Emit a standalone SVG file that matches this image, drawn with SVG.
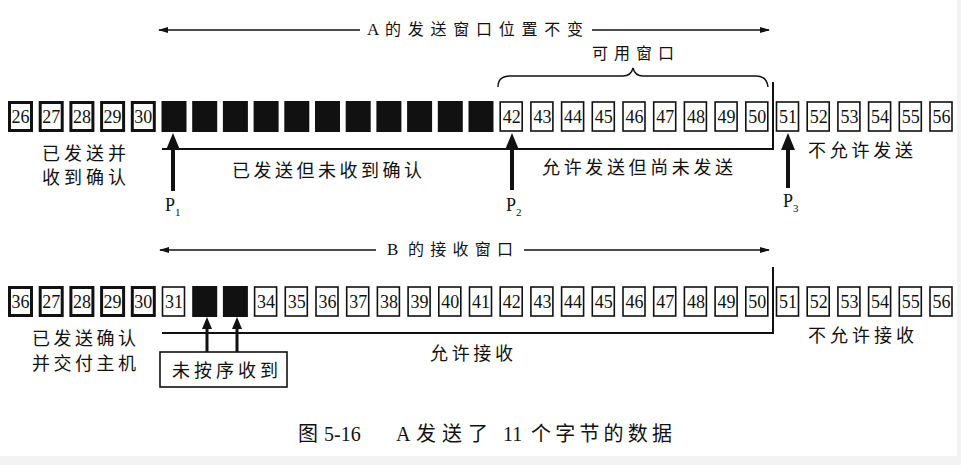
<svg xmlns="http://www.w3.org/2000/svg" xmlns:xlink="http://www.w3.org/1999/xlink" width="961" height="465" viewBox="0 0 961 465">
<style>
.bk{fill:#111}
.tk{fill:#fff;stroke:#111;stroke-width:3}
.tn{fill:#fff;stroke:#111;stroke-width:1.6}
.num{font-family:"Liberation Serif",serif;font-size:18px;text-anchor:middle;fill:#111}
.cn{font-family:"Liberation Serif","Noto Sans CJK SC",serif;font-size:18px;fill:#111}
.cap{font-family:"Liberation Serif","Noto Sans CJK SC",serif;font-size:20px;fill:#111}
.sm{font-family:"Liberation Serif","Noto Sans CJK SC",serif;font-size:16px;fill:#111}
.p{font-family:"Liberation Serif",serif;font-size:18px;fill:#111}
.sub{font-family:"Liberation Serif",serif;font-size:11px;fill:#111}
.ln{stroke:#111;stroke-width:2;fill:none}
.th{stroke:#111;stroke-width:1.4;fill:none}
.ar{fill:#111}
</style>
<defs>
<rect id="thick" x="1.5" y="1.5" width="22" height="28" class="tk"/>
<rect id="thin" x="1" y="1" width="22" height="29" class="tn"/>
<rect id="blk" width="25" height="31" class="bk"/>
<marker id="ah" viewBox="0 0 10 6" refX="9" refY="3" markerWidth="10" markerHeight="6" markerUnits="userSpaceOnUse" orient="auto-start-reverse">
<path d="M0,0 L10,3 L0,6 Z" fill="#111"/>
</marker>
</defs>
<rect x="0" y="0" width="961" height="465" fill="#fff"/>
<rect x="0" y="456" width="961" height="9" fill="#f3f3f3"/>
<rect x="957" y="0" width="4" height="465" fill="#f3f3f3"/>

<!-- Top row: A -->
<g id="a26" transform="translate(8,101)"><use href="#thick"/><text class="num" x="12.5" y="22">26</text></g>
<g id="a27" transform="translate(38.7,101)"><use href="#thick"/><text class="num" x="12.5" y="22">27</text></g>
<g id="a28" transform="translate(69.4,101)"><use href="#thick"/><text class="num" x="12.5" y="22">28</text></g>
<g id="a29" transform="translate(100.1,101)"><use href="#thick"/><text class="num" x="12.5" y="22">29</text></g>
<g id="a30" transform="translate(130.8,101)"><use href="#thick"/><text class="num" x="12.5" y="22">30</text></g>
<g id="a31" transform="translate(161.5,101)"><use href="#blk"/></g>
<g id="a32" transform="translate(192.2,101)"><use href="#blk"/></g>
<g id="a33" transform="translate(222.9,101)"><use href="#blk"/></g>
<g id="a34" transform="translate(253.6,101)"><use href="#blk"/></g>
<g id="a35" transform="translate(284.3,101)"><use href="#blk"/></g>
<g id="a36" transform="translate(315,101)"><use href="#blk"/></g>
<g id="a37" transform="translate(345.7,101)"><use href="#blk"/></g>
<g id="a38" transform="translate(376.4,101)"><use href="#blk"/></g>
<g id="a39" transform="translate(407.1,101)"><use href="#blk"/></g>
<g id="a40" transform="translate(437.8,101)"><use href="#blk"/></g>
<g id="a41" transform="translate(468.5,101)"><use href="#blk"/></g>
<g id="a42" transform="translate(499.2,101)"><use href="#thin"/><text class="num" x="12.5" y="22">42</text></g>
<g id="a43" transform="translate(529.9,101)"><use href="#thin"/><text class="num" x="12.5" y="22">43</text></g>
<g id="a44" transform="translate(560.6,101)"><use href="#thin"/><text class="num" x="12.5" y="22">44</text></g>
<g id="a45" transform="translate(591.3,101)"><use href="#thin"/><text class="num" x="12.5" y="22">45</text></g>
<g id="a46" transform="translate(622,101)"><use href="#thin"/><text class="num" x="12.5" y="22">46</text></g>
<g id="a47" transform="translate(652.7,101)"><use href="#thin"/><text class="num" x="12.5" y="22">47</text></g>
<g id="a48" transform="translate(683.4,101)"><use href="#thin"/><text class="num" x="12.5" y="22">48</text></g>
<g id="a49" transform="translate(714.1,101)"><use href="#thin"/><text class="num" x="12.5" y="22">49</text></g>
<g id="a50" transform="translate(744.8,101)"><use href="#thin"/><text class="num" x="12.5" y="22">50</text></g>
<g id="a51" transform="translate(775.5,101)"><use href="#thin"/><text class="num" x="12.5" y="22">51</text></g>
<g id="a52" transform="translate(806.2,101)"><use href="#thin"/><text class="num" x="12.5" y="22">52</text></g>
<g id="a53" transform="translate(836.9,101)"><use href="#thin"/><text class="num" x="12.5" y="22">53</text></g>
<g id="a54" transform="translate(867.6,101)"><use href="#thin"/><text class="num" x="12.5" y="22">54</text></g>
<g id="a55" transform="translate(898.3,101)"><use href="#thin"/><text class="num" x="12.5" y="22">55</text></g>
<g id="a56" transform="translate(929,101)"><use href="#thin"/><text class="num" x="12.5" y="22">56</text></g>

<!-- Bottom row: B -->
<g id="b36a" transform="translate(8,286)"><use href="#thick"/><text class="num" x="12.5" y="22">36</text></g>
<g id="b27" transform="translate(38.7,286)"><use href="#thick"/><text class="num" x="12.5" y="22">27</text></g>
<g id="b28" transform="translate(69.4,286)"><use href="#thick"/><text class="num" x="12.5" y="22">28</text></g>
<g id="b29" transform="translate(100.1,286)"><use href="#thick"/><text class="num" x="12.5" y="22">29</text></g>
<g id="b30" transform="translate(130.8,286)"><use href="#thick"/><text class="num" x="12.5" y="22">30</text></g>
<g id="b31" transform="translate(161.5,286)"><use href="#thin"/><text class="num" x="12.5" y="22">31</text></g>
<g id="b32" transform="translate(192.2,286)"><use href="#blk"/></g>
<g id="b33" transform="translate(222.9,286)"><use href="#blk"/></g>
<g id="b34" transform="translate(253.6,286)"><use href="#thin"/><text class="num" x="12.5" y="22">34</text></g>
<g id="b35" transform="translate(284.3,286)"><use href="#thin"/><text class="num" x="12.5" y="22">35</text></g>
<g id="b36" transform="translate(315,286)"><use href="#thin"/><text class="num" x="12.5" y="22">36</text></g>
<g id="b37" transform="translate(345.7,286)"><use href="#thin"/><text class="num" x="12.5" y="22">37</text></g>
<g id="b38" transform="translate(376.4,286)"><use href="#thin"/><text class="num" x="12.5" y="22">38</text></g>
<g id="b39" transform="translate(407.1,286)"><use href="#thin"/><text class="num" x="12.5" y="22">39</text></g>
<g id="b40" transform="translate(437.8,286)"><use href="#thin"/><text class="num" x="12.5" y="22">40</text></g>
<g id="b41" transform="translate(468.5,286)"><use href="#thin"/><text class="num" x="12.5" y="22">41</text></g>
<g id="b42" transform="translate(499.2,286)"><use href="#thin"/><text class="num" x="12.5" y="22">42</text></g>
<g id="b43" transform="translate(529.9,286)"><use href="#thin"/><text class="num" x="12.5" y="22">43</text></g>
<g id="b44" transform="translate(560.6,286)"><use href="#thin"/><text class="num" x="12.5" y="22">44</text></g>
<g id="b45" transform="translate(591.3,286)"><use href="#thin"/><text class="num" x="12.5" y="22">45</text></g>
<g id="b46" transform="translate(622,286)"><use href="#thin"/><text class="num" x="12.5" y="22">46</text></g>
<g id="b47" transform="translate(652.7,286)"><use href="#thin"/><text class="num" x="12.5" y="22">47</text></g>
<g id="b48" transform="translate(683.4,286)"><use href="#thin"/><text class="num" x="12.5" y="22">48</text></g>
<g id="b49" transform="translate(714.1,286)"><use href="#thin"/><text class="num" x="12.5" y="22">49</text></g>
<g id="b50" transform="translate(744.8,286)"><use href="#thin"/><text class="num" x="12.5" y="22">50</text></g>
<g id="b51" transform="translate(775.5,286)"><use href="#thin"/><text class="num" x="12.5" y="22">51</text></g>
<g id="b52" transform="translate(806.2,286)"><use href="#thin"/><text class="num" x="12.5" y="22">52</text></g>
<g id="b53" transform="translate(836.9,286)"><use href="#thin"/><text class="num" x="12.5" y="22">53</text></g>
<g id="b54" transform="translate(867.6,286)"><use href="#thin"/><text class="num" x="12.5" y="22">54</text></g>
<g id="b55" transform="translate(898.3,286)"><use href="#thin"/><text class="num" x="12.5" y="22">55</text></g>
<g id="b56" transform="translate(929,286)"><use href="#thin"/><text class="num" x="12.5" y="22">56</text></g>

<!-- Out-of-order box -->
<g id="ooo">
<rect x="160" y="352" width="127" height="35" fill="#fff" stroke="#111" stroke-width="1.6"/>
<text class="cn" x="172" y="377" textLength="106" lengthAdjust="spacing">未按序收到</text>
</g>

<!-- Connectors -->
<g id="connectors">
<line class="th" x1="159" y1="30" x2="360" y2="30" marker-start="url(#ah)"/>
<line class="th" x1="592" y1="30" x2="769" y2="30" marker-end="url(#ah)"/>
<line class="th" x1="160" y1="250" x2="376" y2="250" marker-start="url(#ah)"/>
<line class="th" x1="524" y1="250" x2="769" y2="250" marker-end="url(#ah)"/>
<path class="th" d="M498,87 Q498,76 510,76 L623,76 Q631,76 633,68 Q635,76 643,76 L756,76 Q767,76 768,87"/>
<path class="ln" d="M162,149 L773,149 L773,82"/>
<path class="ln" d="M162,333 L773,333 L773,267"/>
<line x1="173" y1="147" x2="173" y2="191" stroke="#111" stroke-width="4"/>
<polygon class="ar" points="173,133 166,150 180,150"/>
<line x1="512" y1="147" x2="512" y2="190" stroke="#111" stroke-width="4"/>
<polygon class="ar" points="512,133 505,150 519,150"/>
<line x1="788" y1="147" x2="788" y2="188" stroke="#111" stroke-width="4"/>
<polygon class="ar" points="788,133 781,150 795,150"/>
<line x1="207" y1="326" x2="207" y2="352" stroke="#111" stroke-width="3"/>
<polygon class="ar" points="207,317 202,329 212,329"/>
<line x1="237" y1="326" x2="237" y2="352" stroke="#111" stroke-width="3"/>
<polygon class="ar" points="237,317 232,329 242,329"/>
</g>

<!-- Labels -->
<g id="labels">
<text class="sm" y="35"><tspan x="367" font-size="17">A</tspan><tspan x="385" textLength="198" lengthAdjust="spacing">的发送窗口位置不变</tspan></text>
<text class="sm" x="592" y="59" textLength="82" lengthAdjust="spacing">可用窗口</text>
<text class="sm" y="255"><tspan x="387" font-size="17">B</tspan><tspan x="408" textLength="105" lengthAdjust="spacing">的接收窗口</tspan></text>
<text class="cn" x="42" y="160" textLength="84" lengthAdjust="spacing">已发送并</text>
<text class="cn" x="42" y="184" textLength="84" lengthAdjust="spacing">收到确认</text>
<text class="cn" x="232" y="177" textLength="190" lengthAdjust="spacing">已发送但未收到确认</text>
<text class="cn" x="542" y="174" textLength="191" lengthAdjust="spacing">允许发送但尚未发送</text>
<text class="cn" x="808" y="157" textLength="105" lengthAdjust="spacing">不允许发送</text>
<text class="cn" x="32" y="345" textLength="104" lengthAdjust="spacing">已发送确认</text>
<text class="cn" x="32" y="370" textLength="104" lengthAdjust="spacing">并交付主机</text>
<text class="cn" x="430" y="360" textLength="83" lengthAdjust="spacing">允许接收</text>
<text class="cn" x="808" y="342" textLength="106" lengthAdjust="spacing">不允许接收</text>
<text class="p" x="165" y="211">P<tspan class="sub" dy="5">1</tspan></text>
<text class="p" x="506" y="211">P<tspan class="sub" dy="5">2</tspan></text>
<text class="p" x="783" y="207">P<tspan class="sub" dy="5">3</tspan></text>
<text class="cap" y="441"><tspan x="298">图</tspan><tspan x="324">5-16</tspan><tspan x="396">A</tspan><tspan x="416" textLength="72" lengthAdjust="spacing">发送了</tspan><tspan x="503">11</tspan><tspan x="531" textLength="141" lengthAdjust="spacing">个字节的数据</tspan></text>
</g>
</svg>
